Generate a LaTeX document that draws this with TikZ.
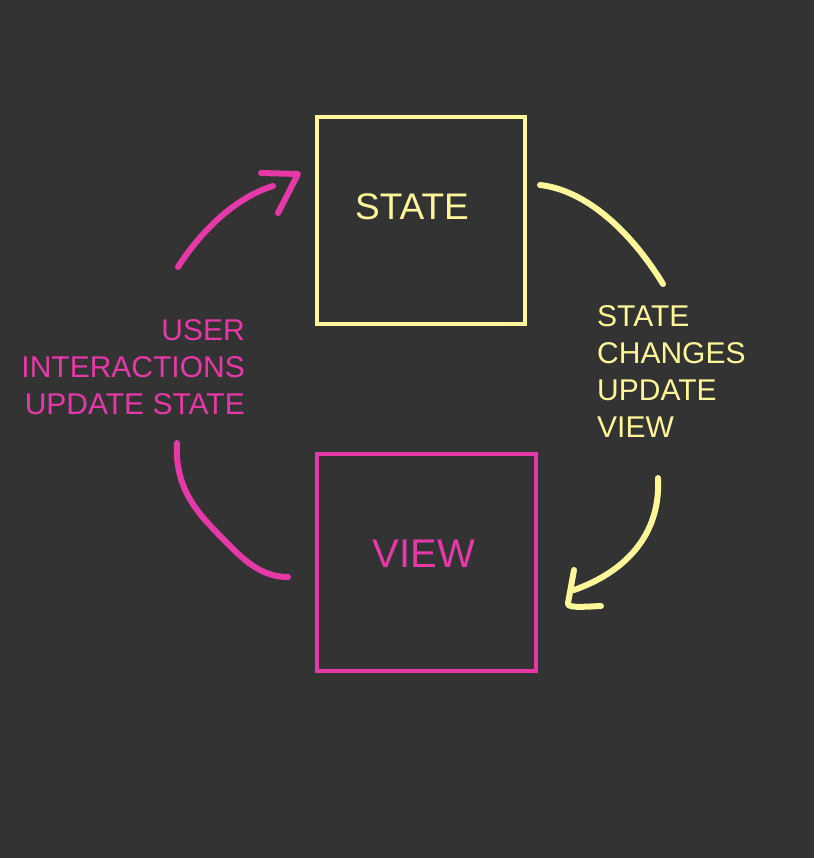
\documentclass[tikz,border=0pt]{standalone}
\usepackage{fontspec}
\setmainfont{Liberation Sans}
\definecolor{bg}{HTML}{333333}
\definecolor{ylw}{HTML}{FFF799}
\definecolor{pnk}{HTML}{E639A8}
\begin{document}
\begin{tikzpicture}[x=1pt,y=-1pt,
  box/.style={draw, line width=4pt, inner sep=0pt},
  stroke/.style={line width=6pt, line cap=round, line join=round},
  boxlbl/.style={inner sep=0pt},
  sidelbl/.style={inner sep=0pt, font=\fontsize{30}{37}\selectfont}]
\fill[bg] (0,0) rectangle (814,858);
\useasboundingbox (0,0) rectangle (814,858);

% boxes
\node[box, ylw, minimum width=208pt, minimum height=207pt] (state) at (421,220.5) {};
\node[box, pnk, minimum width=219pt, minimum height=217pt] (view) at (426.5,562.5) {};
\node[boxlbl, text=ylw, font=\fontsize{37}{40}\selectfont] (statelbl) at (412,207) {STATE};
\node[boxlbl, text=pnk, font=\fontsize{40}{44}\selectfont] (viewlbl) at (424,554) {VIEW};

% side labels
\node[sidelbl, text=pnk, align=right, anchor=north east] (userlbl) at (245,319)
  {USER\\INTERACTIONS\\UPDATE STATE};
\node[sidelbl, text=ylw, align=left, anchor=north west] (changelbl) at (597,305)
  {STATE\\CHANGES\\UPDATE\\VIEW};

% connector end points
\coordinate (pA) at (178,267);
\coordinate (pB) at (273,186);
\coordinate (pH1) at (261,173);
\coordinate (pH2) at (298,174);
\coordinate (pH3) at (278,213);
\coordinate (pC) at (177,443);
\coordinate (pD) at (288,577);
\coordinate (yA) at (540,185);
\coordinate (yB) at (663,284);
\coordinate (yC) at (658,478);
\coordinate (yD) at (574,590);
\coordinate (yH1) at (574,570);
\coordinate (yH2) at (568,603);
\coordinate (yH3) at (601,606);

% pink arrow up to STATE
\draw[stroke, pnk] (pA) .. controls (205,225) and (240,196) .. (pB);
\draw[stroke, pnk] (pH1) -- (pH2) -- (pH3);
% pink line from VIEW
\draw[stroke, pnk] (pC) .. controls (174,495) and (205,520) .. (232,548)
  .. controls (252,568) and (268,577) .. (pD);
% yellow line from STATE
\draw[stroke, ylw] (yA) .. controls (585,190) and (630,230) .. (yB);
% yellow arrow down to VIEW
\draw[stroke, ylw] (yC) .. controls (661,535) and (625,572) .. (yD);
\draw[stroke, ylw] (yH1) -- (yH2) .. controls (567,608) and (580,607) .. (yH3);
\end{tikzpicture}
\end{document}
